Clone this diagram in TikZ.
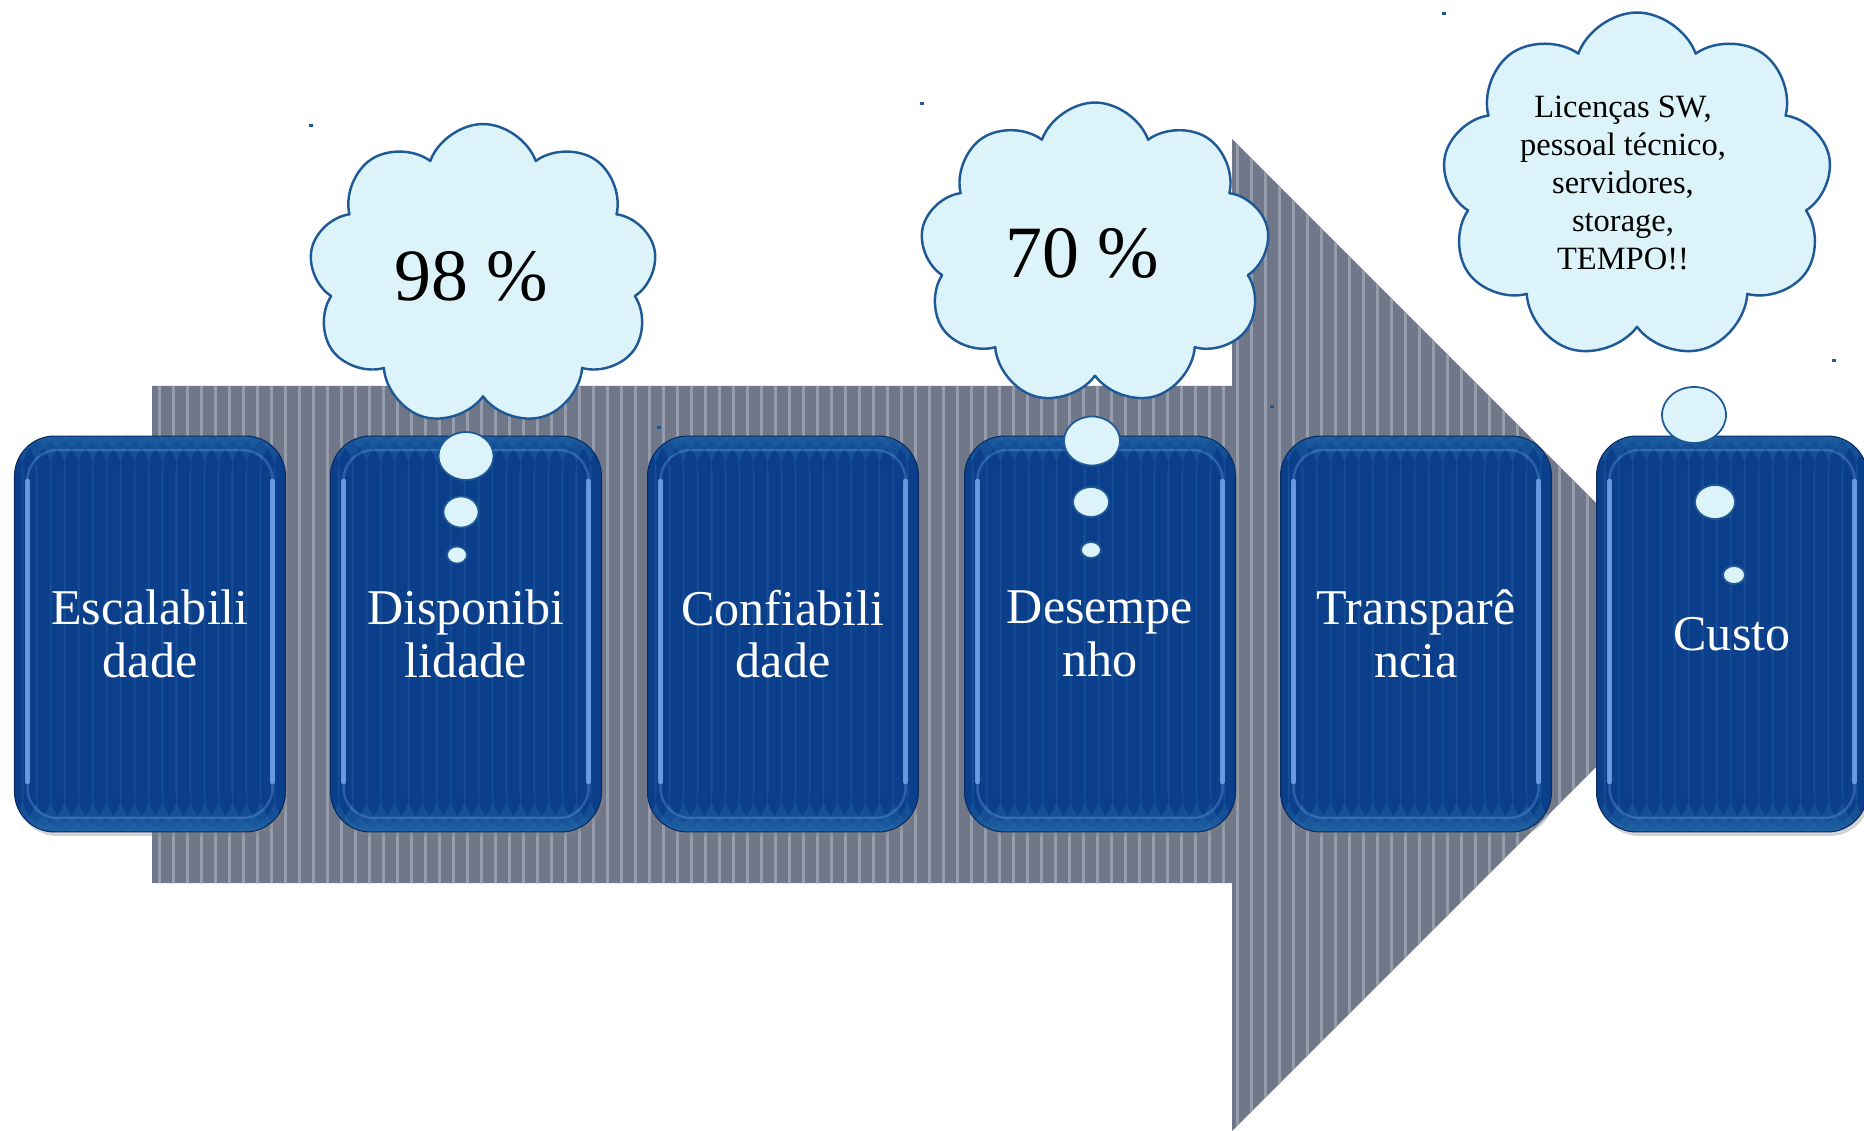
\documentclass[tikz,border=0pt]{standalone}
\usepackage{fontspec}
\setmainfont{Liberation Serif}
\usetikzlibrary{shapes.symbols,shadows}

\definecolor{arrowgray}{HTML}{707789}
\definecolor{arrowline}{HTML}{959CAB}
\definecolor{cardblue}{HTML}{0B3F8B}
\definecolor{cardline}{HTML}{2468A8}
\definecolor{cardglow}{HTML}{7AAAF0}
\definecolor{cloudfill}{HTML}{DCF4F9}
\definecolor{cloudedge}{HTML}{1F5A96}

\tikzset{
	card/.style={rectangle, rounded corners=0.8cm, minimum width=5.42cm, minimum height=7.92cm,
		fill=cardblue, draw=cardblue!70!black, line width=0.6pt, inner sep=0pt,
		text=white, align=center, font=\fontsize{28.5}{29.8}\selectfont,
		drop shadow={shadow xshift=0.05cm, shadow yshift=-0.08cm, opacity=0.35},
		path picture={
			\foreach \i in {0,...,19}
			\fill[cardline, opacity=0.4] ([xshift=\i*0.28cm+0.14cm]path picture bounding box.south west) rectangle ++(0.04cm,8cm);
			\draw[cardglow, line width=1.4pt, opacity=0.3, rounded corners=0.6cm]
			([shift={(0.26cm,0.28cm)}]path picture bounding box.south west) rectangle
			([shift={(-0.26cm,-0.28cm)}]path picture bounding box.north east);
			\draw[cardglow, line width=2.6pt, opacity=0.8, line cap=round]
			([shift={(0.26cm,1.0cm)}]path picture bounding box.south west) --
			([shift={(0.26cm,-0.9cm)}]path picture bounding box.north west)
			([shift={(-0.26cm,1.0cm)}]path picture bounding box.south east) --
			([shift={(-0.26cm,-0.9cm)}]path picture bounding box.north east);
		}},
	thought/.style={cloud, cloud puffs=9, cloud puff arc=140, cloud ignores aspect,
		draw=cloudedge, fill=cloudfill, line width=1.4pt, inner sep=0pt},
	bubble/.style={draw=cloudedge, fill=cloudfill, line width=1pt},
	handle/.style={fill=cloudedge}
}

\begin{document}
\begin{tikzpicture}[x=0.02cm, y=-0.02cm, line join=round]
		\useasboundingbox (0,0) rectangle (1864,1131);
		% big striped arrow behind the cards
		\path
		(152,386) coordinate (S1)
		(1232,386) coordinate (S2)
		(1232,139) coordinate (H1)
		(1728,635) coordinate (T)
		(1232,1131) coordinate (H2)
		(1232,883) coordinate (S3)
		(152,883) coordinate (S4)
		;
		\fill[arrowgray] (S1)--(S2)--(H1)--(T)--(H2)--(S3)--(S4)--cycle;
		\begin{scope}
			\clip (S1)--(S2)--(H1)--(T)--(H2)--(S3)--(S4)--cycle;
			\foreach \x in {158,172,...,1730}
			\fill[arrowline] (\x,130) rectangle ++(3,1010);
		\end{scope}
		% cards
		\foreach \n/\x/\t in {esc/150/Escalabili\\dade, disp/466/Disponibi\\lidade,
			conf/783/Confiabili\\dade, desemp/1100/Desempe\\nho,
			transp/1416/Transparê\\ncia, custo/1732/Custo}
		\node[card] (\n) at (\x,634) {\t};
		% thought clouds
		\node[thought, minimum width=6.96cm, minimum height=6.04cm] (nuvem98) at (483,275) {};
		\node[font=\fontsize{42}{46}\selectfont] (p98) at (471,276) {98 \%};
		\node[thought, minimum width=7.0cm, minimum height=6.06cm] (nuvem70) at (1095,254) {};
		\node[font=\fontsize{42}{46}\selectfont] (p70) at (1082,253) {70 \%};
		\node[thought, minimum width=7.8cm, minimum height=6.94cm] (nuvemcusto) at (1637,186) {};
		\node[align=center, font=\fontsize{18.5}{21.6}\selectfont] (pcusto) at (1623,183)
		{Licenças SW,\\pessoal técnico,\\servidores,\\storage,\\TEMPO!!};
		% small bubbles down to the cards
		\foreach \x/\y/\a/\b in {466/456/27.5/24, 461/512/17.5/15.5, 457/555/10/8.5,
			1092/441/28/24.5, 1091/502/18/15, 1091/550/10/8,
			1694/415/32/28, 1715/502/20/17, 1734/575/11/9}
		\filldraw[bubble] (\x,\y) ellipse [x radius=\a, y radius=\b];
		% selection handles left on the clouds
		\foreach \x/\y in {309/124, 657/426, 920/102, 1270/405, 1442/12, 1832/359}
		\fill[handle] (\x,\y) rectangle ++(4,3);
\end{tikzpicture}
\end{document}
